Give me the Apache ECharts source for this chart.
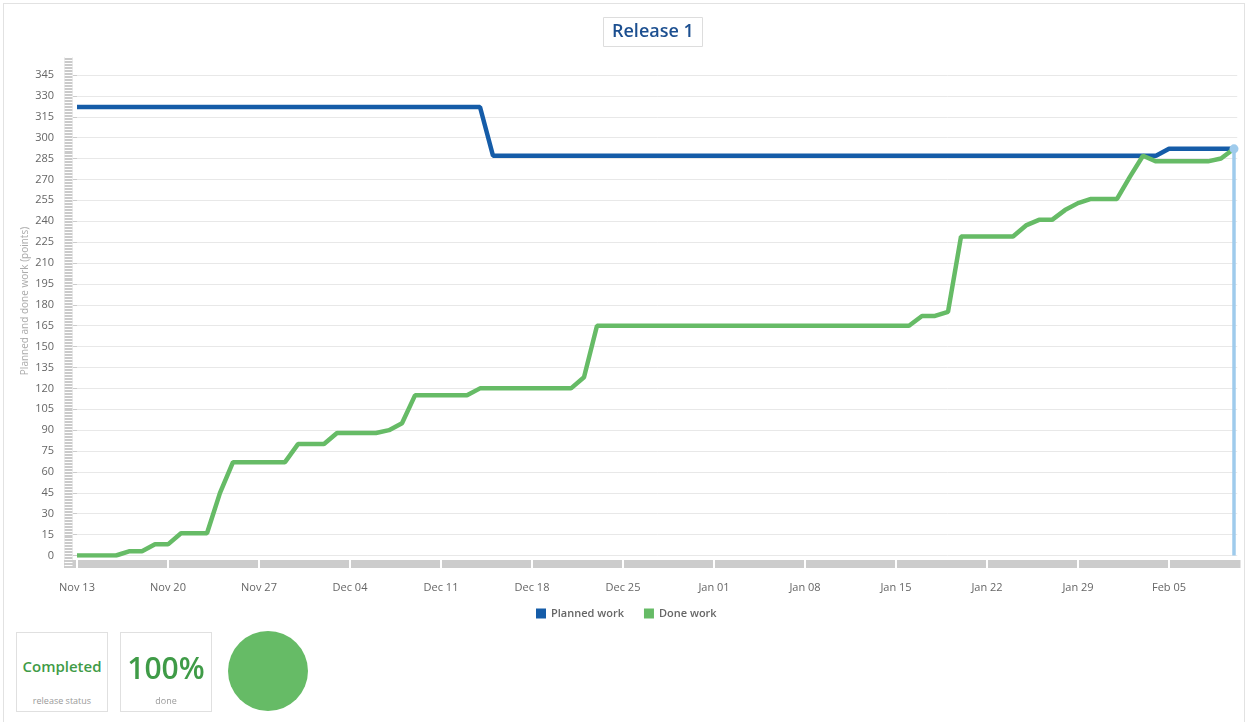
<!DOCTYPE html>
<html>
<head>
<meta charset="utf-8">
<script src="https://cdn.jsdelivr.net/npm/echarts@6/dist/echarts.min.js"></script>
<style>
html,body{margin:0;padding:0;background:#fff;overflow:hidden;width:1248px;height:722px;}
#frame{position:absolute;left:3px;top:3px;width:1242px;height:780px;border:1px solid #e2e2e2;box-sizing:border-box;}
#chart{position:absolute;left:0;top:0;width:1248px;height:722px;}
.box{position:absolute;top:632px;width:92px;height:80px;border:1px solid #e0e0e0;box-sizing:border-box;font-family:'Open Sans',sans-serif;text-align:center;background:#fff;}
.big{position:absolute;left:0;right:0;color:#3f9b47;}
.small{position:absolute;left:0;right:0;top:62px;line-height:12px;font-size:9px;color:#9a9a9a;}
</style>
</head>
<body>
<div id="frame"></div>
<div id="chart"></div>
<div class="box" style="left:16px;"><div class="big" style="top:23px;line-height:20px;font-size:15px;font-weight:600;">Completed</div><div class="small">release status</div></div>
<div class="box" style="left:120px;"><div class="big" style="top:17px;line-height:36px;font-size:30px;font-weight:600;">100%</div><div class="small">done</div></div>
<script>
// ---- data (x = days since Nov 13) ----
const xTickLabels = ['Nov 13','Nov 20','Nov 27','Dec 04','Dec 11','Dec 18','Dec 25','Jan 01','Jan 08','Jan 15','Jan 22','Jan 29','Feb 05'];
const plannedDays   = [0, 31, 32, 83, 84, 89];
const plannedValues = [322, 322, 287, 287, 292, 292];
const doneDays   = [0, 3, 4, 5, 6, 7, 8, 10, 11, 12, 16, 17, 19, 20, 23, 24, 25, 26, 30, 31, 38, 39, 40, 64, 65, 66, 67, 68, 72, 73, 74, 75, 76, 77, 78, 80, 81, 82, 83, 87, 88, 89];
const doneValues = [0, 0, 3, 3, 8, 8, 16, 16, 45, 67, 67, 80, 80, 88, 88, 90, 95, 115, 115, 120, 120, 128, 165, 165, 172, 172, 175, 229, 229, 237, 241, 241, 248, 253, 256, 256, 272, 287, 283, 283, 285, 292];
const donePercent = [100];
const chartTitle = 'Release 1';
const yAxisTitle = 'Planned and done work (points)';
const seriesNames = ['Planned work', 'Done work'];

const FONT = "'Open Sans', sans-serif";
const BLUE = '#155ca8', GREEN = '#66bb66', LIGHT = '#9fcbec';

const planned = plannedDays.map((d, i) => [d, plannedValues[i]]);
const done = doneDays.map((d, i) => [d, doneValues[i]]);
const lastDay = doneDays[doneDays.length - 1];
const lastDone = doneValues[doneValues.length - 1];

// half-day categories for the decorative axis band
const bandCats = [];
for (let h = -2; h <= 179; h++) bandCats.push(String(h));
// categories for the striped y band
const stripeCats = [];
for (let s = 0; s < 170; s++) stripeCats.push(String(s));

const chart = echarts.init(document.getElementById('chart'), null, {renderer: 'canvas'});
chart.setOption({
  animation: false,
  textStyle: {fontFamily: FONT},
  title: {
    text: chartTitle, left: 603, top: 17,
    borderColor: '#dddddd', borderWidth: 1, padding: [4, 9, 4, 9],
    textStyle: {fontSize: 18, fontWeight: 600, color: '#1c4f90', fontFamily: FONT, lineHeight: 22}
  },
  legend: {
    data: seriesNames, left: 531, top: 603, icon: 'rect', itemWidth: 10, itemHeight: 10, itemGap: 20,
    textStyle: {fontSize: 11, fontWeight: 600, color: '#666', fontFamily: FONT}
  },
  grid: [
    {left: 77, right: 10.75, top: 75, bottom: 166.5},
    {left: 64.5, width: 8, top: 57, height: 511, show: true, backgroundColor: '#cacaca', borderWidth: 0},
    {left: 64, right: 7.5, top: 560, height: 8, show: true, backgroundColor: '#cccccc', borderWidth: 0}
  ],
  xAxis: [
    {
      gridIndex: 0, type: 'value', min: 0, max: 89.25, interval: 7,
      axisLine: {show: false}, axisTick: {show: false}, splitLine: {show: false},
      axisLabel: {
        margin: 27, fontSize: 11, color: '#666', fontFamily: FONT, showMaxLabel: false,
        formatter: v => (v % 7 === 0 && xTickLabels[v / 7] !== undefined) ? xTickLabels[v / 7] : ''
      }
    },
    {gridIndex: 1, type: 'value', min: 0, max: 1, show: false},
    {
      gridIndex: 2, type: 'category', boundaryGap: false, data: bandCats,
      axisLine: {show: false}, axisTick: {show: false}, axisLabel: {show: false},
      splitLine: {show: true, interval: (idx, val) => Number(val) % 14 === 0, lineStyle: {color: '#ffffff', width: 2}}
    }
  ],
  yAxis: [
    {
      gridIndex: 0, type: 'value', min: 0, max: 345, interval: 15, offset: 14,
      axisLine: {show: false},
      axisTick: {show: true, length: 4, lineStyle: {color: '#cccccc'}},
      axisLabel: {margin: 9, fontSize: 11, color: '#666', fontFamily: FONT},
      splitLine: {show: true, lineStyle: {color: '#e8e8e8', width: 1}}
    },
    {
      gridIndex: 1, type: 'category', boundaryGap: false, data: stripeCats,
      name: yAxisTitle, nameLocation: 'middle', nameGap: 34, nameMoveOverlap: false,
      nameTextStyle: {fontSize: 10, color: '#aaaaaa', fontFamily: FONT, padding: [0, 0, 0, 23]},
      axisLine: {show: false}, axisTick: {show: false}, axisLabel: {show: false},
      splitLine: {show: true, interval: 0, lineStyle: {color: '#ffffff', width: 1}}
    },
    {gridIndex: 2, type: 'value', min: 0, max: 1, show: false, splitLine: {show: false}}
  ],
  series: [
    {
      name: seriesNames[0], type: 'line', xAxisIndex: 0, yAxisIndex: 0, data: planned,
      showSymbol: false, symbol: 'none', color: BLUE,
      lineStyle: {color: BLUE, width: 4.5}, emphasis: {disabled: true}, silent: true, z: 3
    },
    {
      name: seriesNames[1], type: 'line', xAxisIndex: 0, yAxisIndex: 0, data: done,
      showSymbol: false, symbol: 'none', color: GREEN,
      lineStyle: {color: GREEN, width: 4.5}, emphasis: {disabled: true}, silent: true, z: 4,
      markLine: {
        silent: true, symbol: ['none', 'circle'], symbolSize: 9,
        lineStyle: {color: LIGHT, width: 3.5, type: 'solid'}, itemStyle: {color: LIGHT},
        label: {show: false}, emphasis: {disabled: true},
        data: [[{coord: [lastDay, 0]}, {coord: [lastDay, lastDone]}]]
      }
    },
    {
      type: 'pie', center: [268, 671], radius: [0, 40], silent: true,
      label: {show: false}, labelLine: {show: false},
      itemStyle: {color: GREEN}, emphasis: {disabled: true},
      data: donePercent.map(v => ({value: v, name: 'done'}))
    }
  ]
});
</script>
</body>
</html>
